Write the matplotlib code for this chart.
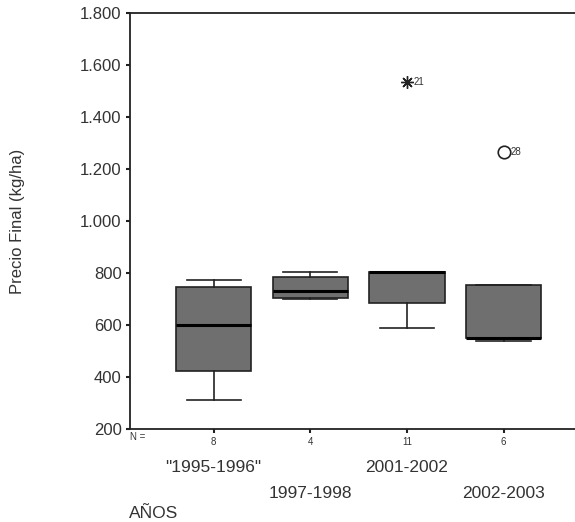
import matplotlib.pyplot as plt
from matplotlib.transforms import blended_transform_factory

# data
years = ['"1995-1996"', '1997-1998', '2001-2002', '2002-2003']
counts = [8, 4, 11, 6]
whislo = [310, 700, 590, 538]
q1 = [425, 704, 685, 550]
med = [600, 730, 805, 550]
q3 = [745, 785, 805, 755]
whishi = [775, 805, 805, 755]
outlier_vals = [[], [], [1535], [1265]]
outlier_ids = [[], [], ['21'], ['28']]
outlier_kind = ['', '', 'extreme', 'outlier']

plt.rcParams['font.family'] = ['Liberation Sans', 'DejaVu Sans']

fig = plt.figure(figsize=(5.75, 5.22), dpi=100)
ax = fig.add_axes([130 / 575, 93 / 522, 445 / 575, 416 / 522])

stats = []
for i in range(len(years)):
    stats.append(dict(whislo=whislo[i], q1=q1[i], med=med[i], q3=q3[i],
                      whishi=whishi[i], fliers=[]))

pos = list(range(1, len(years) + 1))
ax.bxp(stats, positions=pos, widths=0.78, patch_artist=True, showfliers=False,
       boxprops=dict(facecolor='#6f6f6f', edgecolor='#222222', linewidth=1.2),
       medianprops=dict(color='black', linewidth=2.2),
       whiskerprops=dict(color='#222222', linewidth=1.2),
       capprops=dict(color='#222222', linewidth=1.2),
       capwidths=0.56)

for i in range(len(years)):
    for v, lab in zip(outlier_vals[i], outlier_ids[i]):
        if outlier_kind[i] == 'extreme':
            ax.plot(pos[i], v, marker=(8, 2, 0), markersize=9, color='#222222',
                    markeredgewidth=1.0, linestyle='none')
        else:
            ax.plot(pos[i], v, marker='o', markersize=9, markerfacecolor='white',
                    markeredgecolor='#222222', markeredgewidth=1.2, linestyle='none')
        ax.annotate(lab, (pos[i], v), xytext=(5, 0), textcoords='offset points',
                    fontsize=7, va='center', ha='left', color='#333333')

ax.set_ylim(200, 1800)
ax.set_xlim(0.134, 4.74)
yt = list(range(200, 1801, 200))
ax.set_yticks(yt)
ax.set_yticklabels([f'{v:,}'.replace(',', '.') for v in yt], fontsize=12,
                   color='#333333')
ax.set_xticks(pos)
ax.set_xticklabels([str(c) for c in counts], fontsize=7, color='#333333')
ax.tick_params(axis='both', length=3, width=1.5, color='#222222', pad=3)

for s in ['left', 'bottom', 'top']:
    ax.spines[s].set_linewidth(1.3)
    ax.spines[s].set_color('#222222')
ax.spines['right'].set_visible(False)

ax.set_ylabel('Precio Final (kg/ha)', fontsize=12, color='#333333')
ax.yaxis.set_label_coords((25 - 130) / 445, 0.5)

tr = blended_transform_factory(ax.transData, fig.transFigure)
for i, lab in enumerate(years):
    ypos = 1 - 467 / 522 if i % 2 == 0 else 1 - 493 / 522
    ax.text(pos[i], ypos, lab, transform=tr, ha='center', va='center',
            fontsize=12.5, color='#333333')
fig.text(130 / 575, 1 - 437 / 522, 'N =', fontsize=7, ha='left', va='center',
         color='#333333')
fig.text(154 / 575, 1 - 513 / 522, 'AÑOS', fontsize=12.5, ha='center', va='center',
         color='#333333')

fig.savefig('out.png', dpi=100)
